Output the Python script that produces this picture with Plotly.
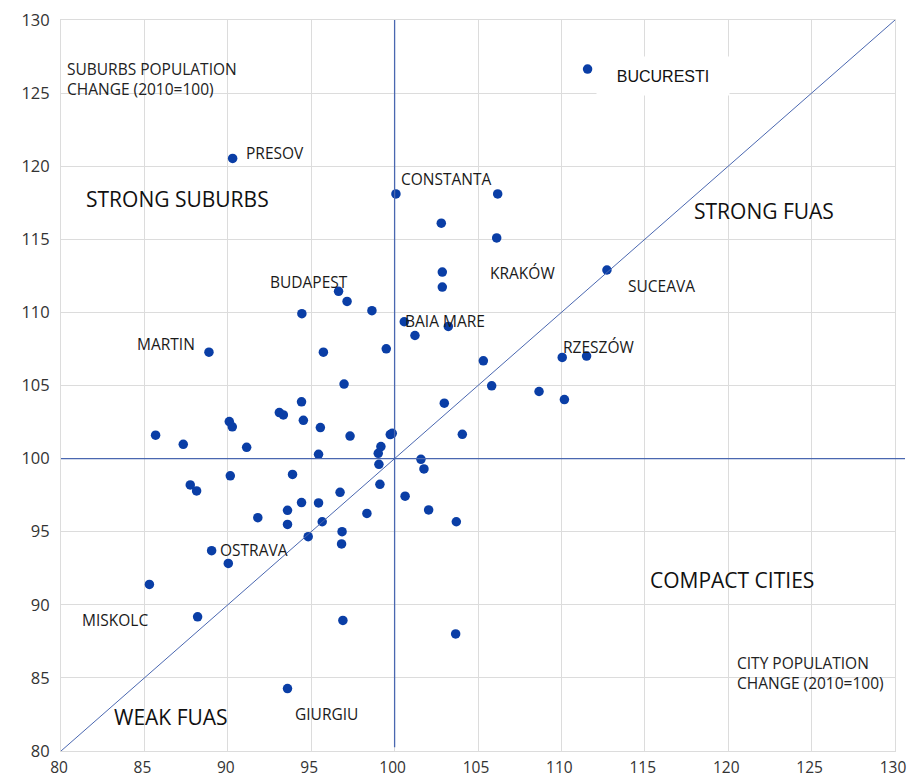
import plotly.graph_objects as go

# City population change (2010=100)
city_change = [111.57, 90.29, 100.08, 106.18, 102.80, 106.12, 102.86, 102.86, 112.73, 96.64,
               97.15, 94.44, 98.64, 100.58, 103.22, 101.22, 88.87, 95.73, 99.50, 105.32,
               110.05, 111.51, 96.97, 105.82, 108.66, 110.18, 94.42, 102.98, 93.09, 93.33,
               94.53, 90.09, 90.27, 95.55, 85.67, 87.33, 91.13, 97.33, 99.74, 99.86,
               99.18, 99.02, 95.44, 104.06, 101.58, 101.76, 99.06, 99.12, 96.73, 100.63,
               90.15, 93.88, 87.75, 88.13, 94.42, 95.44, 93.58, 91.80, 93.58, 95.66,
               94.82, 96.85, 96.82, 89.03, 90.03, 85.30, 88.19, 96.90, 93.58, 98.34,
               102.04, 103.70, 103.66]
# Suburbs population change (2010=100)
suburbs_change = [126.64, 120.53, 118.10, 118.10, 116.10, 115.09, 112.76, 111.73, 112.90, 111.44,
                  110.75, 109.91, 110.12, 109.36, 109.04, 108.42, 107.28, 107.28, 107.51, 106.69,
                  106.92, 107.01, 105.10, 104.98, 104.59, 104.04, 103.88, 103.79, 103.15, 102.99,
                  102.62, 102.53, 102.17, 102.12, 101.60, 100.98, 100.77, 101.54, 101.64, 101.73,
                  100.82, 100.36, 100.29, 101.66, 99.95, 99.29, 99.61, 98.24, 97.69, 97.43,
                  98.82, 98.92, 98.20, 97.79, 96.99, 96.97, 96.46, 95.96, 95.50, 95.68,
                  94.66, 95.00, 94.16, 93.70, 92.83, 91.39, 89.18, 88.93, 84.27, 96.25,
                  96.49, 95.68, 88.01]
city_names = ["BUCURESTI", "PRESOV", "CONSTANTA", "", "", "", "KRAKÓW", "", "SUCEAVA", "BUDAPEST",
              "", "", "", "BAIA MARE", "", "", "MARTIN", "", "", "",
              "RZESZÓW", "", "", "", "", "", "", "", "", "",
              "", "", "", "", "", "", "", "", "", "",
              "", "", "", "", "", "", "", "", "", "",
              "", "", "", "", "", "", "", "", "", "",
              "", "", "", "OSTRAVA", "", "", "MISKOLC", "", "GIURGIU", "",
              "", "", ""]
tick_vals = [80, 85, 90, 95, 100, 105, 110, 115, 120, 125, 130]
quadrant_labels = ["STRONG SUBURBS", "STRONG FUAS", "COMPACT CITIES", "WEAK FUAS"]
axis_titles = ["SUBURBS POPULATION<br>CHANGE (2010=100)", "CITY POPULATION<br>CHANGE (2010=100)"]
reference_level = 100
axis_min, axis_max = 80, 130

# label placement (pixel offsets from the point): (xanchor, xshift, yshift)
label_offsets = {
    "PRESOV": ("left", 11, 5),
    "CONSTANTA": ("left", 3, 15),
    "KRAKÓW": ("left", 46, -1),
    "SUCEAVA": ("left", 19, -16),
    "BUDAPEST": ("right", 11, 9),
    "BAIA MARE": ("left", -1, 1),
    "MARTIN": ("right", -12, 8),
    "RZESZÓW": ("left", -1, 10),
    "OSTRAVA": ("left", 6, 1),
    "MISKOLC": ("right", -48, -3),
    "GIURGIU": ("left", 5, -25),
}
quad_pos = [(81.35, 117.74), (117.81, 116.92), (115.17, 91.70), (83.03, 82.31)]
title_pos = [(80.25, 125.96), (120.38, 85.31)]

LINE_C = "#4a67b0"
DOT_C = "#0a3ea6"
GRID_C = "#dcdcdc"
FONT = "Open Sans"

fig = go.Figure()
fig.add_trace(go.Scatter(
    x=city_change, y=suburbs_change, mode="markers",
    marker=dict(color=DOT_C, size=9.5, line=dict(width=0)),
    hoverinfo="x+y", showlegend=False, cliponaxis=False))

span = axis_max - axis_min
ref_paper = (reference_level - axis_min) / span
shapes = [
    dict(type="line", xref="paper", yref="paper", x0=0, x1=1.012, y0=ref_paper, y1=ref_paper,
         line=dict(color=LINE_C, width=1.3)),
    dict(type="line", xref="x", yref="y", x0=reference_level, x1=reference_level,
         y0=axis_min + 0.25, y1=axis_max, line=dict(color=LINE_C, width=1.3)),
    dict(type="line", xref="x", yref="y", x0=axis_min, x1=axis_max, y0=axis_min, y1=axis_max,
         line=dict(color=LINE_C, width=1)),
]

annotations = []
for xv, yv, nm in zip(city_change, suburbs_change, city_names):
    if not nm:
        continue
    if nm == "BUCURESTI":
        annotations.append(dict(x=xv, y=yv, xref="x", yref="y", text=nm, showarrow=False,
                                xanchor="center", yanchor="middle", xshift=75, yshift=-7,
                                width=130, height=36, align="center", bgcolor="white",
                                font=dict(family="Liberation Sans, Arial", size=16, color="#111")))
        continue
    xa, xs, ys = label_offsets[nm]
    annotations.append(dict(x=xv, y=yv, xref="x", yref="y", text=nm, showarrow=False,
                            xanchor=xa, yanchor="middle", xshift=xs, yshift=ys,
                            font=dict(family=FONT, size=15.5, color="#1a1a1a")))

for txt, (qx, qy) in zip(quadrant_labels, quad_pos):
    annotations.append(dict(x=qx, y=qy, xref="x", yref="y", text=txt, showarrow=False,
                            xanchor="left", yanchor="middle",
                            font=dict(family=FONT, size=21, color="#111")))

for txt, (tx, ty) in zip(axis_titles, title_pos):
    annotations.append(dict(x=tx, y=ty, xref="x", yref="y", text=txt, showarrow=False,
                            xanchor="left", yanchor="middle", align="left",
                            font=dict(family=FONT, size=15.5, color="#222")))

axis_common = dict(range=[axis_min, axis_max], tickvals=tick_vals, showgrid=True,
                   gridcolor=GRID_C, gridwidth=1, zeroline=False, showline=True, mirror=True,
                   linecolor=GRID_C, linewidth=1, ticks="", automargin=False,
                   ticklabeloverflow="allow")

fig.update_layout(
    width=908, height=782,
    margin=dict(l=61, r=13, t=20, b=31),
    paper_bgcolor="white", plot_bgcolor="white",
    xaxis=dict(**axis_common, ticklabelstandoff=2, ticklabelshift=-2,
               tickfont=dict(family=FONT, size=15.5, color="#333")),
    yaxis=dict(**axis_common, ticklabelstandoff=7,
               tickfont=dict(family=FONT, size=16.5, color="#333")),
    shapes=shapes, annotations=annotations,
)

# remove the default page margin and scrollbars so the figure fills the window exactly
fig.write_html("out.html", config={"displayModeBar": False},
               post_script="document.body.style.margin='0';document.body.style.overflow='hidden';")
